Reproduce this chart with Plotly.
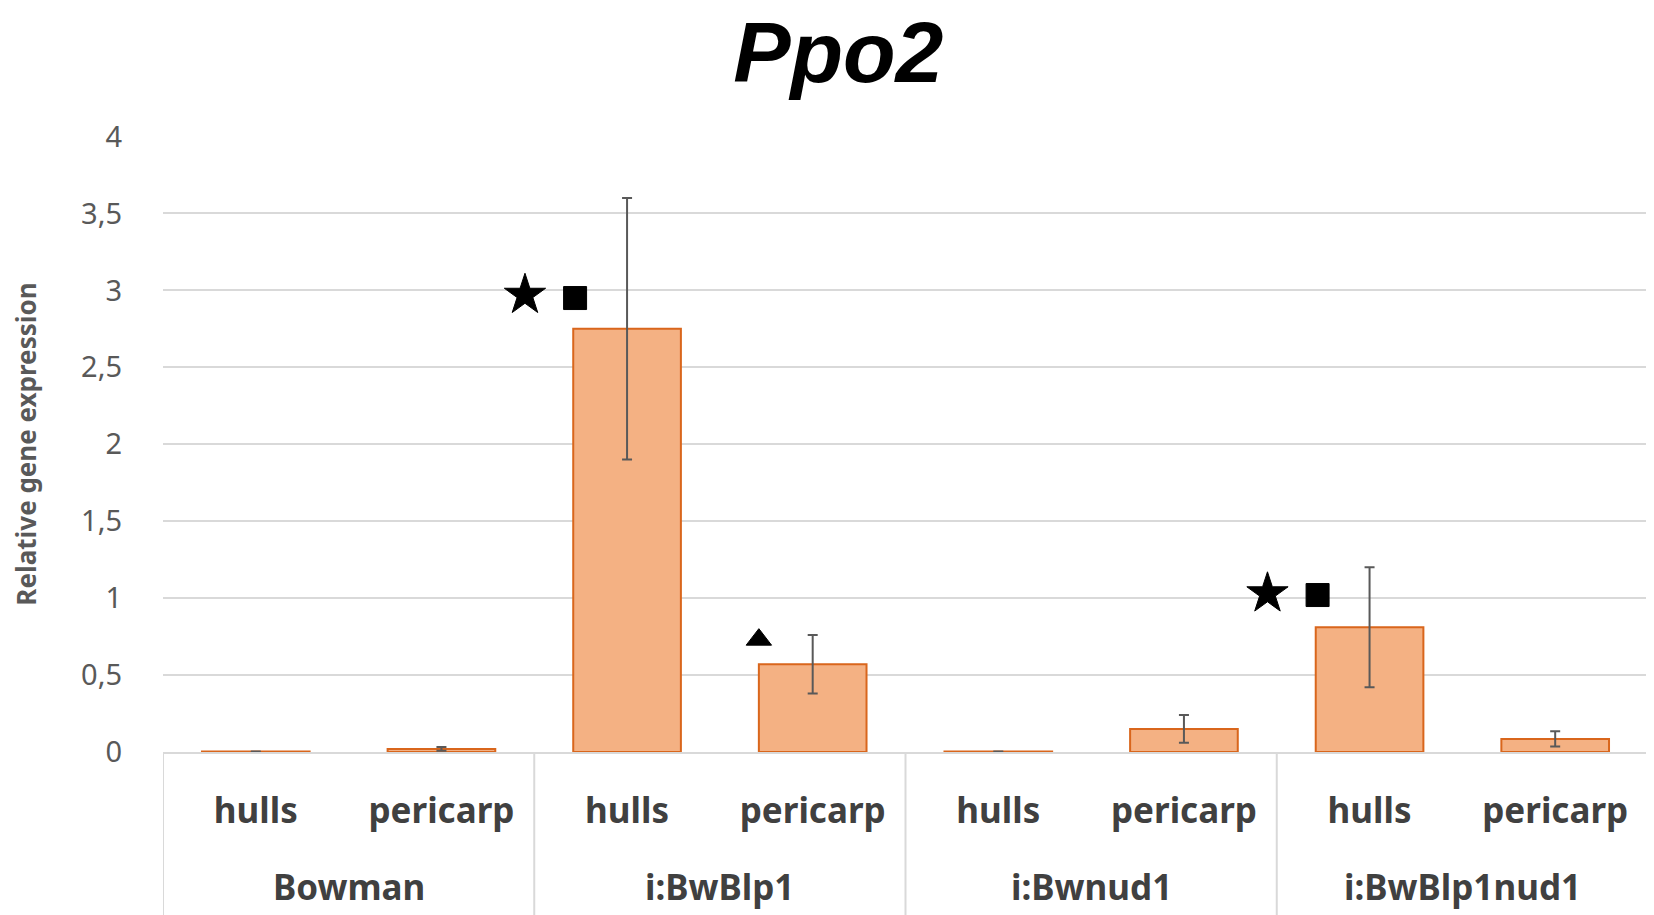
import plotly.graph_objects as go

groups = ["Bowman", "i:BwBlp1", "i:Bwnud1", "i:BwBlp1nud1"]
tissues = ["hulls", "pericarp"]

# mean relative expression, one value per group x tissue
expr = [0.004, 0.02, 2.75, 0.57, 0.004, 0.15, 0.81, 0.085]
err = [0.0, 0.012, 0.85, 0.19, 0.0, 0.09, 0.39, 0.05]

# significance marks: bar index, symbol, height
sig_bar = [2, 2, 3, 6, 6]
sig_symbol = ["star", "square", "triangle-up", "star", "square"]
sig_y = [2.97, 2.95, 0.73, 1.03, 1.02]

y_ticks = [0, 0.5, 1, 1.5, 2, 2.5, 3, 3.5, 4]

labels = [t for _ in groups for t in tissues]
pos = list(range(len(labels)))
n_t = len(tissues)

# horizontal offset (in category widths) and size for each mark type
mark_offset = {"star": -0.55, "square": -0.28, "triangle-up": -0.29}
mark_size = {"star": 31, "square": 23, "triangle-up": 22}

fig = go.Figure()
fig.add_trace(go.Bar(
    x=pos,
    y=expr,
    marker=dict(color="#F4B183", line=dict(color="#D9661C", width=2)),
    width=0.58,
    error_y=dict(type="data", array=err, visible=True,
                 color="#595959", thickness=2, width=5),
    showlegend=False,
))

fig.add_trace(go.Scatter(
    x=[b + mark_offset[s] for b, s in zip(sig_bar, sig_symbol)],
    y=sig_y,
    mode="markers",
    marker=dict(symbol=sig_symbol, color="black", opacity=1,
                line=dict(color="black", width=1),
                size=[mark_size[s] for s in sig_symbol]),
    showlegend=False,
))

# group labels under the tissue labels, with separators between groups
annotations = []
shapes = []
for i, g in enumerate(groups):
    annotations.append(dict(
        text=g, x=i * n_t + (n_t - 1) / 2, xref="x", y=0, yref="paper",
        yanchor="middle", yshift=-134, showarrow=False,
        font=dict(size=35, color="#404040", weight="bold")))
for k in range(len(groups) + 1):
    shapes.append(dict(
        type="line", xref="x", yref="paper",
        x0=k * n_t - 0.5, x1=k * n_t - 0.5, y0=0, y1=-0.3,
        line=dict(color="#d9d9d9", width=2)))

fig.update_layout(
    width=1654, height=915,
    paper_bgcolor="white", plot_bgcolor="white",
    separators=",.",
    margin=dict(l=155, r=14, t=128, b=171),
    title=dict(text="Ppo2", x=0.502, xref="container",
               y=0.985, yref="container", yanchor="top", xanchor="center",
               font=dict(family="Liberation Sans", size=86, color="black",
                         weight="bold", style="italic")),
    font=dict(family="Noto Sans", color="#595959"),
    xaxis=dict(
        range=[-0.5, len(labels) - 0.5],
        tickvals=pos, ticktext=labels,
        showgrid=False, zeroline=False,
        showline=True, linecolor="#d9d9d9", linewidth=2,
        tickfont=dict(size=35, color="#404040", weight="bold"),
        ticks="",
        ticklabelstandoff=27,
    ),
    yaxis=dict(
        range=[0, 4.003],
        tickvals=y_ticks,
        showgrid=True, gridcolor="#d9d9d9", gridwidth=2,
        zeroline=False,
        ticks="",
        ticklabelstandoff=40,
        tickfont=dict(size=29, color="#595959"),
        title=dict(text="Relative gene expression", standoff=44,
                   font=dict(size=26, color="#595959", weight="bold")),
    ),
    annotations=annotations,
    shapes=shapes,
)

fig.write_html("out.html")
